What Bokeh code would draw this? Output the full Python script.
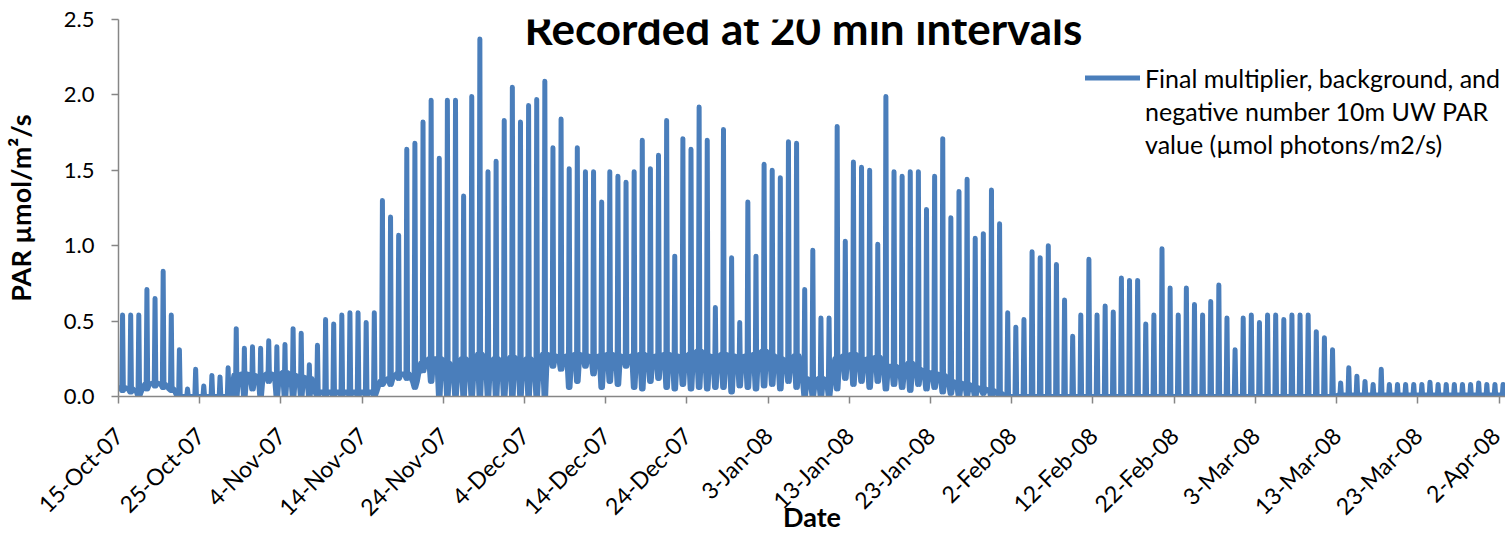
import pandas as pd
from math import pi
from bokeh.plotting import figure
from bokeh.models import (FixedTicker, PrintfTickFormatter, Legend, LegendItem,
                          Label, Range1d, ColumnDataSource)
from bokeh.embed import file_html
from bokeh.resources import INLINE

# ---------------- data ----------------
start_date = "2007-10-15"

tick_labels = ["15-Oct-07", "25-Oct-07", "4-Nov-07", "14-Nov-07", "24-Nov-07",
               "4-Dec-07", "14-Dec-07", "24-Dec-07", "3-Jan-08", "13-Jan-08",
               "23-Jan-08", "2-Feb-08", "12-Feb-08", "22-Feb-08", "3-Mar-08",
               "13-Mar-08", "23-Mar-08", "2-Apr-08"]

y_ticks = [0.0, 0.5, 1.0, 1.5, 2.0, 2.5]

series_name = ["Final multiplier, background, and",
               "negative number 10m UW PAR",
               "value (µmol photons/m2/s)"]

# daily midday peak PAR, 15-Oct-07 .. 2-Apr-08
peak_oct = [0.54, 0.54, 0.54, 0.71, 0.65, 0.83, 0.54, 0.31, 0.05, 0.18, 0.07, 0.14,
            0.13, 0.19, 0.45, 0.32, 0.33]
peak_nov = [0.32, 0.37, 0.33, 0.345, 0.45, 0.42, 0.21, 0.34, 0.51, 0.48, 0.54, 0.555,
            0.555, 0.49, 0.555, 1.30, 1.19, 1.07, 1.64, 1.68, 1.82, 1.965, 1.58, 1.965,
            1.965, 1.33, 1.99, 2.37, 1.49, 1.56]
peak_dec = [1.83, 2.05, 1.82, 1.93, 1.97, 2.09, 1.65, 1.84, 1.51, 1.65, 1.49, 1.49,
            1.29, 1.49, 1.46, 1.42, 1.49, 1.70, 1.51, 1.60, 1.83, 0.93, 1.71, 1.64,
            1.92, 1.70, 0.59, 1.77, 0.92, 0.49, 1.29]
peak_jan = [0.93, 1.54, 1.50, 1.45, 1.69, 1.68, 0.71, 0.97, 0.52, 0.52, 1.79, 1.03,
            1.555, 1.52, 1.50, 1.01, 1.99, 1.49, 1.46, 1.49, 1.49, 1.24, 1.46, 1.71,
            1.185, 1.36, 1.44, 1.05, 1.08, 1.37, 1.145]
peak_feb = [0.555, 0.46, 0.51, 0.96, 0.92, 1.00, 0.875, 0.64, 0.40, 0.54, 0.91, 0.54,
            0.60, 0.56, 0.785, 0.77, 0.77, 0.48, 0.54, 0.98, 0.72, 0.54, 0.72, 0.61,
            0.54, 0.63, 0.74, 0.52, 0.31]
peak_mar = [0.52, 0.54, 0.49, 0.54, 0.54, 0.51, 0.54, 0.54, 0.54, 0.43, 0.39, 0.31,
            0.09, 0.19, 0.135, 0.10, 0.08, 0.18, 0.08, 0.08, 0.08, 0.08, 0.08, 0.095,
            0.08, 0.08, 0.08, 0.08, 0.08, 0.09, 0.08]
peak_apr = [0.08, 0.08]

# dawn / dusk minimum
low_oct = [0.04, 0.03, 0.0, 0.05, 0.07, 0.06, 0.04, 0.0, 0.0, 0.0, 0.0, 0.0, 0.0, 0.0,
           0.0, 0.0, 0.05]
low_nov = [0.0, 0.1, 0.0, 0.0, 0.0, 0.0, 0.0, 0.0, 0.0, 0.0, 0.0, 0.0, 0.0, 0.0, 0.0,
           0.08, 0.08, 0.12, 0.12, 0.06, 0.17, 0.10, 0.0, 0.0, 0.0, 0.0, 0.0, 0.0, 0.0,
           0.0]
low_dec = [0.0, 0.0, 0.0, 0.0, 0.0, 0.0, 0.20, 0.18, 0.06, 0.10, 0.20, 0.15, 0.06, 0.10,
           0.08, 0.20, 0.06, 0.05, 0.10, 0.12, 0.06, 0.05, 0.08, 0.05, 0.06, 0.05, 0.06,
           0.06, 0.03, 0.07, 0.06]
low_jan = [0.05, 0.07, 0.08, 0.05, 0.10, 0.06, 0.0, 0.0, 0.0, 0.0, 0.05, 0.12, 0.08,
           0.10, 0.06, 0.10, 0.05, 0.08, 0.06, 0.04, 0.08, 0.05, 0.06, 0.03, 0.02, 0.0,
           0.01, 0.0, 0.02, 0.0, 0.0]
low_feb = [0.0] * 29
low_mar = [0.0] * 31
low_apr = [0.0, 0.0]

# mid-night plateau
mid_oct = [0.06, 0.05, 0.03, 0.08, 0.09, 0.08, 0.05, 0.0, 0.0, 0.0, 0.0, 0.0, 0.0, 0.0,
           0.14, 0.15, 0.14]
mid_nov = [0.13, 0.15, 0.14, 0.16, 0.14, 0.13, 0.12, 0.03, 0.03, 0.03, 0.03, 0.03, 0.03,
           0.03, 0.03, 0.10, 0.12, 0.15, 0.15, 0.10, 0.22, 0.25, 0.25, 0.22, 0.18, 0.25,
           0.20, 0.28, 0.22, 0.25]
mid_dec = [0.20, 0.26, 0.22, 0.25, 0.20, 0.28, 0.27, 0.26, 0.27, 0.28, 0.27, 0.26, 0.27,
           0.28, 0.27, 0.26, 0.27, 0.28, 0.26, 0.27, 0.28, 0.27, 0.26, 0.28, 0.30, 0.27,
           0.26, 0.28, 0.27, 0.26, 0.27]
mid_jan = [0.28, 0.30, 0.27, 0.25, 0.23, 0.27, 0.12, 0.10, 0.12, 0.10, 0.25, 0.27, 0.28,
           0.24, 0.25, 0.26, 0.20, 0.20, 0.18, 0.22, 0.18, 0.16, 0.15, 0.14, 0.10, 0.09,
           0.08, 0.06, 0.05, 0.04, 0.02]
mid_feb = [0.0] * 29
mid_mar = [0.0] * 12 + [0.01] * 19
mid_apr = [0.01, 0.01]

peak = peak_oct + peak_nov + peak_dec + peak_jan + peak_feb + peak_mar + peak_apr
night_low = low_oct + low_nov + low_dec + low_jan + low_feb + low_mar + low_apr
night_mid = mid_oct + mid_nov + mid_dec + mid_jan + mid_feb + mid_mar + mid_apr

# ---------------- build series ----------------
dates = pd.date_range(start_date, periods=len(peak), freq="D")
day = (dates - dates[0]).days.to_numpy()

xs, ys = [], []
for d, lo, mi, pk in zip(day, night_low, night_mid, peak):
    xs += [d + 0.2, d + 0.4, d + 0.5, d + 0.6, d + 0.8]
    ys += [mi, lo, pk, lo, mi]
src = ColumnDataSource(dict(x=xs, y=ys))

tick_pos = [int((pd.to_datetime(t, format="%d-%b-%y") - dates[0]).days) for t in tick_labels]

# ---------------- figure ----------------
FONT = "Lato"
BLUE = "#4a7ebb"
AXIS = "#868686"

p = figure(width=1505, height=535, output_backend="svg", toolbar_location=None,
           x_range=Range1d(0, 170.8), y_range=Range1d(0, 2.5),
           min_border_left=118, min_border_right=0, min_border_top=19,
           min_border_bottom=139)
p.outline_line_color = None
p.xgrid.visible = False
p.ygrid.visible = False
p.background_fill_color = "white"

r = p.line("x", "y", source=src, line_width=5, line_color=BLUE,
           line_join="round", line_cap="round")
blank = p.line(x=[], y=[], line_alpha=0)

for ax in (p.xaxis[0], p.yaxis[0]):
    ax.axis_line_color = AXIS
    ax.axis_line_width = 1.5
    ax.major_tick_line_color = AXIS
    ax.major_tick_line_width = 1.5
    ax.major_tick_out = 7
    ax.major_tick_in = 0
    ax.minor_tick_out = 0
    ax.minor_tick_in = 0
    ax.major_label_text_font = FONT
    ax.major_label_text_color = "#000000"
    ax.axis_label_text_font = FONT
    ax.axis_label_text_font_style = "bold"
    ax.axis_label_text_font_size = "27px"
    ax.axis_label_text_color = "#000000"

xa = p.xaxis[0]
xa.ticker = FixedTicker(ticks=tick_pos)
xa.major_label_overrides = {pos: lab for pos, lab in zip(tick_pos, tick_labels)}
xa.major_label_orientation = pi / 4
xa.major_label_text_font_size = "23px"
xa.major_label_standoff = 28
xa.axis_label = "Date"
xa.axis_label_standoff = -34

ya = p.yaxis[0]
ya.ticker = FixedTicker(ticks=y_ticks)
ya.formatter = PrintfTickFormatter(format="%.1f")
ya.major_label_text_font_size = "22px"
ya.major_label_standoff = 17
ya.axis_label = "PAR µmol/m²/s"
ya.axis_label_standoff = 24

legend = Legend(items=[LegendItem(label=series_name[0], renderers=[r]),
                       LegendItem(label=series_name[1], renderers=[blank]),
                       LegendItem(label=series_name[2], renderers=[blank])],
                location=(967, 236), border_line_color=None, background_fill_alpha=0,
                padding=0, margin=0, spacing=0, glyph_width=55, glyph_height=33,
                label_standoff=5, label_height=33, label_text_font=FONT,
                label_text_font_size="25px", label_text_color="#000000")
p.add_layout(legend)

title = Label(x=685, y=395, x_units="screen", y_units="screen",
              text="Recorded at 20 min intervals", text_align="center",
              text_baseline="top", text_font=FONT, text_font_size="44px",
              text_font_style="bold", text_color="#000000")
p.add_layout(title)

open("out.html", "w").write(file_html(p, INLINE))
